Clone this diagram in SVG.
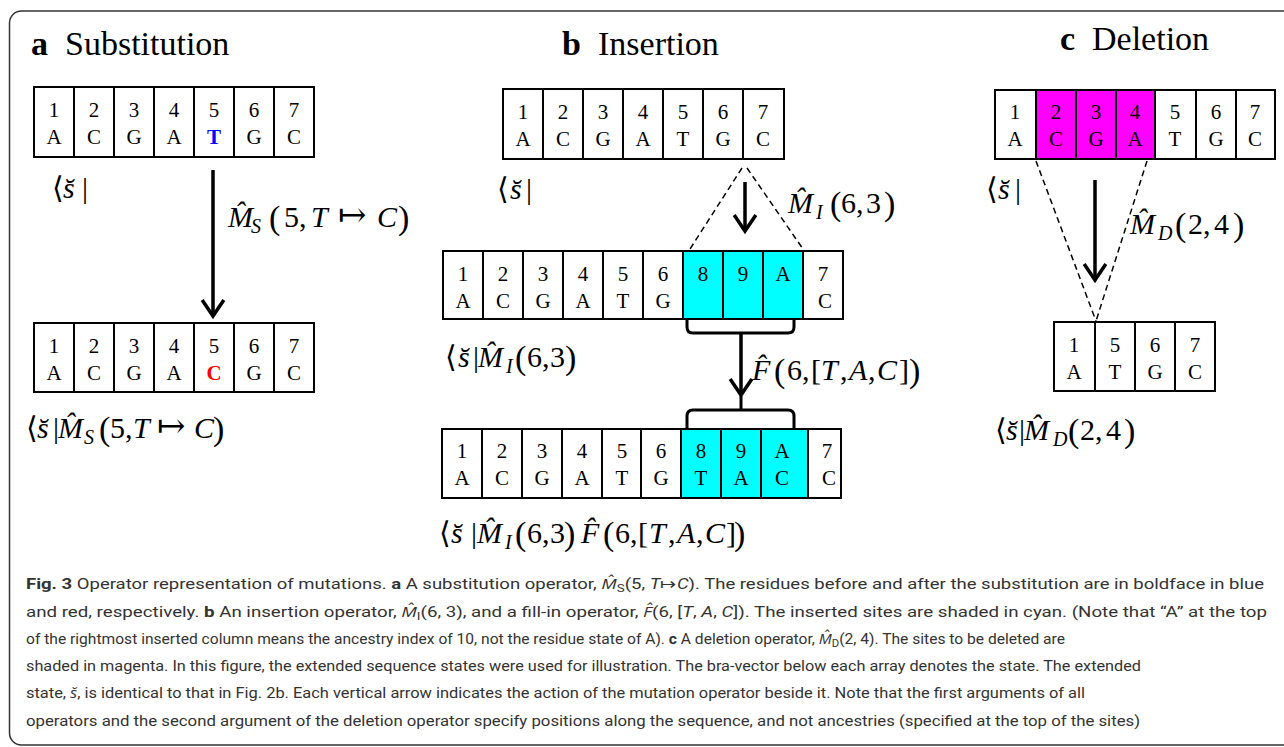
<svg xmlns="http://www.w3.org/2000/svg" width="1284" height="747" viewBox="0 0 1284 747">
<style>
.cell{fill:#fff;stroke:#000;stroke-width:2}
.cy{fill:#00ffff}
.mg{fill:#ff00ff}
.ct{font-family:"Liberation Serif","Times New Roman",serif;font-size:21px;text-anchor:middle;fill:#000}
.ttl{font-family:"Liberation Serif","Times New Roman",serif;font-size:34px;fill:#000}
.m{font-family:"Liberation Serif","DejaVu Serif",serif;font-size:30px;fill:#000}
.i{font-style:italic}
.sb{font-style:italic;font-size:20px}
.p{font-size:34px}
.ar{font-family:"DejaVu Sans","DejaVu Serif",sans-serif;font-size:34px;font-weight:200}
.br{font-family:"DejaVu Serif","DejaVu Sans",serif;font-size:30px}
.arrow{stroke:#000;stroke-width:3.5;fill:none;marker-end:url(#vhead)}
.dash{stroke:#000;stroke-width:1.5;fill:none;stroke-dasharray:6 4}
.brace{stroke:#000;stroke-width:3;fill:none;stroke-linejoin:round}
.cap{font-family:Roboto,"Open Sans","Liberation Sans",sans-serif;font-size:14.5px;fill:#333}
.b{font-weight:bold}
</style>
<defs>
<marker id="vhead" markerUnits="strokeWidth" viewBox="-1 -1 7 9" refX="4.6" refY="3.1" markerWidth="7" markerHeight="9" orient="auto" overflow="visible">
<path d="M0,0 L4.6,3.1 L0,6.2" fill="none" stroke="#000" stroke-width="1"/>
</marker>
</defs>
<rect x="9.5" y="11" width="1300" height="734" rx="12" fill="#fff" stroke="#333" stroke-width="1.5"/>

<!-- Panel a -->
<g id="title-a"><text class="ttl" x="31" y="55"><tspan class="b">a</tspan><tspan x="65">Substitution</tspan></text></g>
<g id="a-top">
<rect class="cell" x="34" y="87" width="40" height="70"/><rect class="cell" x="74" y="87" width="40" height="70"/><rect class="cell" x="114" y="87" width="40" height="70"/><rect class="cell" x="154" y="87" width="40" height="70"/><rect class="cell" x="194" y="87" width="40" height="70"/><rect class="cell" x="234" y="87" width="40" height="70"/><rect class="cell" x="274" y="87" width="40" height="70"/>
<text class="ct" x="54" y="117">1</text><text class="ct" x="94" y="117">2</text><text class="ct" x="134" y="117">3</text><text class="ct" x="174" y="117">4</text><text class="ct" x="214" y="117">5</text><text class="ct" x="254" y="117">6</text><text class="ct" x="294" y="117">7</text>
<text class="ct" x="54" y="144">A</text><text class="ct" x="94" y="144">C</text><text class="ct" x="134" y="144">G</text><text class="ct" x="174" y="144">A</text><text class="ct b" x="214" y="144" style="fill:#0000ff">T</text><text class="ct" x="254" y="144">G</text><text class="ct" x="294" y="144">C</text>
</g>
<g id="a-top-label"><text class="m"><tspan class="br" x="52" y="198">⟨</tspan><tspan class="i" x="63" y="198">s̆</tspan><tspan x="82" y="198">|</tspan></text></g>
<g id="a-op-label"><text class="m"><tspan class="i" x="228" y="227">M̂</tspan><tspan class="sb" x="251" y="233">S</tspan><tspan class="p" x="269" y="229">(</tspan><tspan x="284" y="227">5,</tspan><tspan class="i" x="311" y="227">T</tspan><tspan class="ar" x="338" y="226">↦</tspan><tspan class="i" x="377" y="227">C</tspan><tspan class="p" x="398" y="229">)</tspan></text></g>
<g id="a-bottom">
<rect class="cell" x="34" y="323" width="40" height="69"/><rect class="cell" x="74" y="323" width="40" height="69"/><rect class="cell" x="114" y="323" width="40" height="69"/><rect class="cell" x="154" y="323" width="40" height="69"/><rect class="cell" x="194" y="323" width="40" height="69"/><rect class="cell" x="234" y="323" width="40" height="69"/><rect class="cell" x="274" y="323" width="40" height="69"/>
<text class="ct" x="54" y="353">1</text><text class="ct" x="94" y="353">2</text><text class="ct" x="134" y="353">3</text><text class="ct" x="174" y="353">4</text><text class="ct" x="214" y="353">5</text><text class="ct" x="254" y="353">6</text><text class="ct" x="294" y="353">7</text>
<text class="ct" x="54" y="380">A</text><text class="ct" x="94" y="380">C</text><text class="ct" x="134" y="380">G</text><text class="ct" x="174" y="380">A</text><text class="ct b" x="214" y="380" style="fill:#ff0000">C</text><text class="ct" x="254" y="380">G</text><text class="ct" x="294" y="380">C</text>
</g>
<g id="a-bottom-label"><text class="m"><tspan class="br" x="26" y="438">⟨</tspan><tspan class="i" x="37" y="438">s̆</tspan><tspan x="53" y="438">|</tspan><tspan class="i" x="58" y="438">M̂</tspan><tspan class="sb" x="84" y="444">S</tspan><tspan class="p" x="99" y="440">(</tspan><tspan x="110" y="438">5,</tspan><tspan class="i" x="133" y="438">T</tspan><tspan class="ar" x="157" y="437">↦</tspan><tspan class="i" x="194" y="438">C</tspan><tspan class="p" x="213" y="440">)</tspan></text></g>

<!-- Panel b -->
<g id="title-b"><text class="ttl" x="562" y="55"><tspan class="b">b</tspan><tspan x="598">Insertion</tspan></text></g>
<g id="b-top">
<rect class="cell" x="503" y="89" width="40" height="70"/><rect class="cell" x="543" y="89" width="40" height="70"/><rect class="cell" x="583" y="89" width="40" height="70"/><rect class="cell" x="623" y="89" width="40" height="70"/><rect class="cell" x="663" y="89" width="40" height="70"/><rect class="cell" x="703" y="89" width="40" height="70"/><rect class="cell" x="743" y="89" width="41" height="70"/>
<text class="ct" x="523" y="119">1</text><text class="ct" x="563" y="119">2</text><text class="ct" x="603" y="119">3</text><text class="ct" x="643" y="119">4</text><text class="ct" x="683" y="119">5</text><text class="ct" x="723" y="119">6</text><text class="ct" x="763" y="119">7</text>
<text class="ct" x="523" y="146">A</text><text class="ct" x="563" y="146">C</text><text class="ct" x="603" y="146">G</text><text class="ct" x="643" y="146">A</text><text class="ct" x="683" y="146">T</text><text class="ct" x="723" y="146">G</text><text class="ct" x="763" y="146">C</text>
</g>
<g id="b-top-label"><text class="m"><tspan class="br" x="497" y="199">⟨</tspan><tspan class="i" x="510" y="199">s̆</tspan><tspan x="526" y="199">|</tspan></text></g>
<g id="b-op1-label"><text class="m"><tspan class="i" x="788" y="213">M̂</tspan><tspan class="sb" x="816" y="219">I</tspan><tspan class="p" x="830" y="215">(</tspan><tspan x="841" y="213">6,</tspan><tspan x="866" y="213">3</tspan><tspan class="p" x="884" y="215">)</tspan></text></g>
<g id="b-mid">
<rect class="cell" x="443" y="251" width="40" height="68"/><rect class="cell" x="483" y="251" width="40" height="68"/><rect class="cell" x="523" y="251" width="40" height="68"/><rect class="cell" x="563" y="251" width="40" height="68"/><rect class="cell" x="603" y="251" width="40" height="68"/><rect class="cell" x="643" y="251" width="40" height="68"/><rect class="cell cy" x="683" y="251" width="40" height="68"/><rect class="cell cy" x="723" y="251" width="40" height="68"/><rect class="cell cy" x="763" y="251" width="40" height="68"/><rect class="cell" x="803" y="251" width="40" height="68"/>
<text class="ct" x="463" y="281">1</text><text class="ct" x="503" y="281">2</text><text class="ct" x="543" y="281">3</text><text class="ct" x="583" y="281">4</text><text class="ct" x="623" y="281">5</text><text class="ct" x="663" y="281">6</text><text class="ct" x="703" y="281">8</text><text class="ct" x="743" y="281">9</text><text class="ct" x="783" y="281">A</text><text class="ct" x="823" y="281">7</text>
<text class="ct" x="463" y="308">A</text><text class="ct" x="503" y="308">C</text><text class="ct" x="543" y="308">G</text><text class="ct" x="583" y="308">A</text><text class="ct" x="623" y="308">T</text><text class="ct" x="663" y="308">G</text><text class="ct" x="825" y="308">C</text>
</g>
<g id="b-mid-label"><text class="m"><tspan class="br" x="445" y="367">⟨</tspan><tspan class="i" x="458" y="367">s̆</tspan><tspan x="473" y="367">|</tspan><tspan class="i" x="478" y="367">M̂</tspan><tspan class="sb" x="506" y="373">I</tspan><tspan class="p" x="515" y="369">(</tspan><tspan x="527" y="367">6,</tspan><tspan x="550" y="367">3</tspan><tspan class="p" x="565" y="369">)</tspan></text></g>
<g id="b-op2-label"><text class="m"><tspan class="i" x="752" y="380">F̂</tspan><tspan class="p" x="774" y="382">(</tspan><tspan x="787" y="380">6,</tspan><tspan x="811" y="380">[</tspan><tspan class="i" x="821" y="380">T</tspan><tspan x="840" y="380">,</tspan><tspan class="i" x="849" y="380">A</tspan><tspan x="868" y="380">,</tspan><tspan class="i" x="877" y="380">C</tspan><tspan x="899" y="380">]</tspan><tspan class="p" x="909" y="382">)</tspan></text></g>
<g id="b-bottom">
<rect class="cell" x="442" y="429" width="40" height="69"/><rect class="cell" x="482" y="429" width="40" height="69"/><rect class="cell" x="522" y="429" width="40" height="69"/><rect class="cell" x="562" y="429" width="40" height="69"/><rect class="cell" x="602" y="429" width="39" height="69"/><rect class="cell" x="641" y="429" width="40" height="69"/><rect class="cell cy" x="681" y="429" width="40" height="69"/><rect class="cell cy" x="721" y="429" width="40" height="69"/><rect class="cell cy" x="761" y="429" width="47" height="69"/><rect class="cell" x="808" y="429" width="33" height="69"/>
<text class="ct" x="462" y="458">1</text><text class="ct" x="502" y="458">2</text><text class="ct" x="542" y="458">3</text><text class="ct" x="582" y="458">4</text><text class="ct" x="622" y="458">5</text><text class="ct" x="661" y="458">6</text><text class="ct" x="701" y="458">8</text><text class="ct" x="741" y="458">9</text><text class="ct" x="782" y="458">A</text><text class="ct" x="827" y="458">7</text>
<text class="ct" x="462" y="485">A</text><text class="ct" x="502" y="485">C</text><text class="ct" x="542" y="485">G</text><text class="ct" x="582" y="485">A</text><text class="ct" x="622" y="485">T</text><text class="ct" x="661" y="485">G</text><text class="ct" x="701" y="485">T</text><text class="ct" x="741" y="485">A</text><text class="ct" x="782" y="485">C</text><text class="ct" x="829" y="485">C</text>
</g>
<g id="b-bottom-label"><text class="m"><tspan class="br" x="439" y="543">⟨</tspan><tspan class="i" x="451" y="543">s̆</tspan><tspan x="471" y="543">|</tspan><tspan class="i" x="477" y="543">M̂</tspan><tspan class="sb" x="505" y="549">I</tspan><tspan class="p" x="515" y="545">(</tspan><tspan x="527" y="543">6,</tspan><tspan x="550" y="543">3</tspan><tspan class="p" x="564" y="545">)</tspan><tspan class="i" x="581" y="543">F̂</tspan><tspan class="p" x="603" y="545">(</tspan><tspan x="615" y="543">6,</tspan><tspan x="638" y="543">[</tspan><tspan class="i" x="649" y="543">T</tspan><tspan x="668" y="543">,</tspan><tspan class="i" x="677" y="543">A</tspan><tspan x="696" y="543">,</tspan><tspan class="i" x="705" y="543">C</tspan><tspan x="726" y="543">]</tspan><tspan class="p" x="734" y="545">)</tspan></text></g>

<!-- Panel c -->
<g id="title-c"><text class="ttl" x="1060" y="50"><tspan class="b">c</tspan><tspan x="1092">Deletion</tspan></text></g>
<g id="c-top">
<rect class="cell" x="995" y="90" width="41" height="69"/><rect class="cell mg" x="1036" y="90" width="40" height="69"/><rect class="cell mg" x="1076" y="90" width="40" height="69"/><rect class="cell mg" x="1116" y="90" width="39" height="69"/><rect class="cell" x="1155" y="90" width="41" height="69"/><rect class="cell" x="1196" y="90" width="40" height="69"/><rect class="cell" x="1236" y="90" width="39" height="69"/>
<text class="ct" x="1015" y="119">1</text><text class="ct" x="1056" y="119">2</text><text class="ct" x="1096" y="119">3</text><text class="ct" x="1135" y="119">4</text><text class="ct" x="1175" y="119">5</text><text class="ct" x="1216" y="119">6</text><text class="ct" x="1255" y="119">7</text>
<text class="ct" x="1015" y="146">A</text><text class="ct" x="1056" y="146">C</text><text class="ct" x="1096" y="146">G</text><text class="ct" x="1135" y="146">A</text><text class="ct" x="1175" y="146">T</text><text class="ct" x="1216" y="146">G</text><text class="ct" x="1255" y="146">C</text>
</g>
<g id="c-top-label"><text class="m"><tspan class="br" x="986" y="199">⟨</tspan><tspan class="i" x="998" y="199">s̆</tspan><tspan x="1015" y="199">|</tspan></text></g>
<g id="c-op-label"><text class="m"><tspan class="i" x="1130" y="234">M̂</tspan><tspan class="sb" x="1158" y="240">D</tspan><tspan class="p" x="1175" y="236">(</tspan><tspan x="1188" y="234">2,</tspan><tspan x="1214" y="234">4</tspan><tspan class="p" x="1233" y="236">)</tspan></text></g>
<g id="c-bottom">
<rect class="cell" x="1054" y="322" width="41" height="69"/><rect class="cell" x="1095" y="322" width="40" height="69"/><rect class="cell" x="1135" y="322" width="40" height="69"/><rect class="cell" x="1175" y="322" width="40" height="69"/>
<text class="ct" x="1074" y="352">1</text><text class="ct" x="1115" y="352">5</text><text class="ct" x="1155" y="352">6</text><text class="ct" x="1195" y="352">7</text>
<text class="ct" x="1074" y="379">A</text><text class="ct" x="1115" y="379">T</text><text class="ct" x="1155" y="379">G</text><text class="ct" x="1195" y="379">C</text>
</g>
<g id="c-bottom-label"><text class="m"><tspan class="br" x="995" y="440">⟨</tspan><tspan class="i" x="1006" y="440">s̆</tspan><tspan x="1019" y="440">|</tspan><tspan class="i" x="1024" y="440">M̂</tspan><tspan class="sb" x="1053" y="446">D</tspan><tspan class="p" x="1068" y="442">(</tspan><tspan x="1080" y="440">2,</tspan><tspan x="1106" y="440">4</tspan><tspan class="p" x="1124" y="442">)</tspan></text></g>

<!-- Connectors -->
<g id="connectors">
<line class="arrow" x1="213" y1="170" x2="213" y2="316"/>
<line class="dash" x1="742" y1="168" x2="690" y2="249"/>
<line class="dash" x1="747" y1="168" x2="803" y2="249"/>
<line class="arrow" x1="745" y1="182" x2="745" y2="231"/>
<path class="brace" d="M687,320 L687,327 Q687,333 693,333 L788,333 Q794,333 794,327 L794,320"/>
<line class="arrow" x1="741" y1="333" x2="741" y2="395"/>
<line x1="741" y1="396" x2="741" y2="410" stroke="#000" stroke-width="3"/>
<path class="brace" d="M687,428 L687,416 Q687,410 693,410 L788,410 Q794,410 794,416 L794,428"/>
<line class="dash" x1="1036" y1="161" x2="1096" y2="321"/>
<line class="dash" x1="1147" y1="161" x2="1096" y2="321"/>
<line class="arrow" x1="1095" y1="180" x2="1095" y2="280"/>
</g>

<!-- Caption -->
<g id="caption">
<text class="cap" x="26" y="589" textLength="1238" lengthAdjust="spacingAndGlyphs"><tspan class="b">Fig. 3</tspan> Operator representation of mutations. <tspan class="b">a</tspan> A substitution operator, <tspan class="i">M̂</tspan><tspan font-size="10.5" dy="3">S</tspan><tspan dy="-3">(5,   </tspan><tspan class="i">T</tspan>↦<tspan class="i">C</tspan>). The residues before and after the substitution are in boldface in blue</text>
<text class="cap" x="26" y="617" textLength="1241" lengthAdjust="spacingAndGlyphs">and red, respectively. <tspan class="b">b</tspan> An insertion operator, <tspan class="i">M̂</tspan><tspan font-size="10.5" dy="3">I</tspan><tspan dy="-3">(6,   3), and a fill-in operator, </tspan><tspan class="i">F̂</tspan>(6,   [<tspan class="i">T</tspan>, <tspan class="i">A</tspan>, <tspan class="i">C</tspan>]). The inserted sites are shaded in cyan. (Note that “A” at the top</text>
<text class="cap" x="26" y="644" textLength="1039" lengthAdjust="spacingAndGlyphs">of the rightmost inserted column means the ancestry index of 10, not the residue state of A). <tspan class="b">c</tspan> A deletion operator, <tspan class="i">M̂</tspan><tspan font-size="10.5" dy="3">D</tspan><tspan dy="-3">(2,   4). The sites to be deleted are</tspan></text>
<text class="cap" x="26" y="671" textLength="1115" lengthAdjust="spacingAndGlyphs">shaded in magenta. In this figure, the extended sequence states were used for illustration. The bra-vector below each array denotes the state. The extended</text>
<text class="cap" x="26" y="698" textLength="1059" lengthAdjust="spacingAndGlyphs">state, <tspan class="i">s̆</tspan>, is identical to that in Fig. 2b. Each vertical arrow indicates the action of the mutation operator beside it. Note that the first arguments of all</text>
<text class="cap" x="26" y="726" textLength="1114" lengthAdjust="spacingAndGlyphs">operators and the second argument of the deletion operator specify positions along the sequence, and not ancestries (specified at the top of the sites)</text>
</g>
</svg>
